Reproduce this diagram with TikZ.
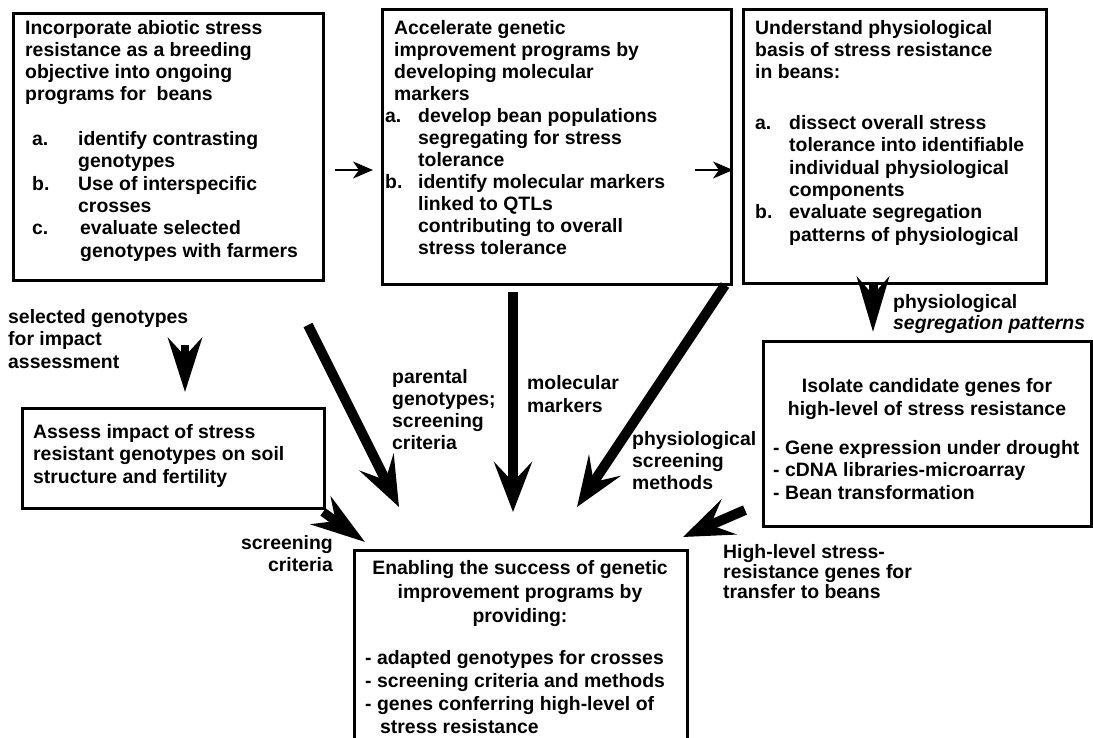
\documentclass[tikz,border=0pt]{standalone}
\usepackage{fontspec}
\setmainfont{Liberation Sans}
\usetikzlibrary{arrows.meta}
\begin{document}
\begin{tikzpicture}[x=1pt,y=-1pt,
  box/.style={draw, line width=2.5pt, inner sep=0pt, anchor=north west},
  txt/.style={anchor=base west, align=left, inner sep=0pt, font={\fontsize{19.4}{22.3}\selectfont\bfseries}},
  bigarrow/.style={line width=10pt, -{Stealth[length=50pt,width=38pt,inset=20pt]}},
  stubarrow/.style={line width=9pt, -{Stealth[length=54pt,width=34pt,inset=18pt]}},
  thinarrow/.style={line width=2pt, -{Stealth[length=20pt,width=17pt,inset=6pt]}}]
\useasboundingbox (0,0) rectangle (1093,737);
\fill[white] (0,0) rectangle (1093,737);

% boxes
\node[box, minimum width=310pt, minimum height=267pt] (b1) at (12,12) {};
\node[box, minimum width=349pt, minimum height=275pt] (b2) at (381,8) {};
\node[box, minimum width=303pt, minimum height=274pt] (b3) at (742,8) {};
\node[box, minimum width=302pt, minimum height=100pt] (b4) at (21,407) {};
\node[box, minimum width=328pt, minimum height=185pt] (b5) at (762,340) {};
\node[box, minimum width=333pt, minimum height=220pt] (b6) at (353,549) {};

% box texts (anchor = baseline of the last line)
\node[txt] (t1) at (25,257) {Incorporate abiotic stress\\
resistance as a breeding\\
objective into ongoing\\
programs for\ \ beans\\[22.3pt]
\hspace*{7pt}\makebox[46pt][l]{a.}identify contrasting\\
\hspace*{53pt}genotypes\\
\hspace*{7pt}\makebox[46pt][l]{b.}Use of interspecific\\
\hspace*{53pt}crosses\\
\hspace*{7pt}\makebox[48pt][l]{c.}evaluate selected\\
\hspace*{55pt}genotypes with farmers};

\node[txt, font={\fontsize{19.4}{22}\selectfont\bfseries}] (t2) at (385,254) {\hspace*{9pt}Accelerate genetic\\
\hspace*{9pt}improvement programs by\\
\hspace*{9pt}developing molecular\\
\hspace*{9pt}markers\\
\makebox[33pt][l]{a.}develop bean populations\\
\hspace*{33pt}segregating for stress\\
\hspace*{33pt}tolerance\\
\makebox[33pt][l]{b.}identify molecular markers\\
\hspace*{33pt}linked to QTLs\\
\hspace*{33pt}contributing to overall\\
\hspace*{33pt}stress tolerance};

\node[txt] (t3) at (755,241) {Understand physiological\\
basis of stress resistance\\
in beans:\\[28.6pt]
\makebox[34pt][l]{a.}dissect overall stress\\
\hspace*{34pt}tolerance into identifiable\\
\hspace*{34pt}individual physiological\\
\hspace*{34pt}components\\
\makebox[34pt][l]{b.}evaluate segregation\\
\hspace*{34pt}patterns of physiological};

\node[txt] (t4) at (33,483) {Assess impact of stress\\
resistant genotypes on soil\\
structure and fertility};

\node[txt, anchor=base, align=center] (t5a) at (927,415) {Isolate candidate genes for\\
high-level of stress resistance};
\node[txt] (t5b) at (773,499) {- Gene expression under drought\\
- cDNA libraries-microarray\\
- Bean transformation};

\node[txt, anchor=base, align=center, font={\fontsize{19.4}{24}\selectfont\bfseries}] (t6a) at (520,622) {Enabling the success of genetic\\
improvement programs by\\
providing:};
\node[txt, font={\fontsize{19.4}{23}\selectfont\bfseries}] (t6b) at (365,733) {- adapted genotypes for crosses\\
- screening criteria and methods\\
- genes conferring high-level of\\
\hspace*{15pt}stress resistance};

% labels
\node[txt, font={\fontsize{19.4}{22.5}\selectfont\bfseries}] (lsel) at (8,368) {selected genotypes\\for impact\\assessment};
\node[txt, font={\fontsize{19.4}{22}\selectfont\bfseries}] (lpar) at (392,449) {parental\\genotypes;\\screening\\criteria};
\node[txt, font={\fontsize{19.4}{23}\selectfont\bfseries}] (lmol) at (527,412) {molecular\\markers};
\node[txt, font={\fontsize{19.4}{22}\selectfont\bfseries}] (lphs) at (632,489) {physiological\\screening\\methods};
\node[txt, font={\fontsize{19.4}{21}\selectfont\bfseries}] (lseg) at (893,329) {physiological\\\textit{segregation patterns}};
\node[txt, anchor=base east, align=right, font={\fontsize{19.4}{22}\selectfont\bfseries}] (lscr) at (333,571) {screening\\criteria};
\node[txt, font={\fontsize{19.4}{20}\selectfont\bfseries}] (lhl) at (723,598) {High-level stress-\\resistance genes for\\transfer to beans};

% connector end points
\coordinate (h1s) at (335,170); \coordinate (h1e) at (373,170);
\coordinate (h2s) at (695,170); \coordinate (h2e) at (733,170);
\coordinate (a1s) at (308,325); \coordinate (a1e) at (399,507);
\coordinate (a2s) at (513,292); \coordinate (a2e) at (513,512);
\coordinate (a3s) at (725,285); \coordinate (a3e) at (577,507);
\coordinate (a4s) at (745,510); \coordinate (a4e) at (683,537);
\coordinate (a5s) at (323,512); \coordinate (a5e) at (365,542);
\coordinate (a6s) at (185,345); \coordinate (a6e) at (185,392);
\coordinate (a7s) at (873,284); \coordinate (a7e) at (873,332);

% arrows
\draw[thinarrow] (h1s) -- (h1e);
\draw[thinarrow] (h2s) -- (h2e);
\draw[bigarrow] (a1s) -- (a1e);
\draw[bigarrow] (a2s) -- (a2e);
\draw[bigarrow] (a3s) -- (a3e);
\draw[bigarrow] (a4s) -- (a4e);
\draw[stubarrow] (a5s) -- (a5e);
\draw[stubarrow, line width=8pt] (a6s) -- (a6e);
\draw[stubarrow, -{Stealth[length=55pt,width=32pt,inset=18pt]}] (a7s) -- (a7e);
\end{tikzpicture}
\end{document}
